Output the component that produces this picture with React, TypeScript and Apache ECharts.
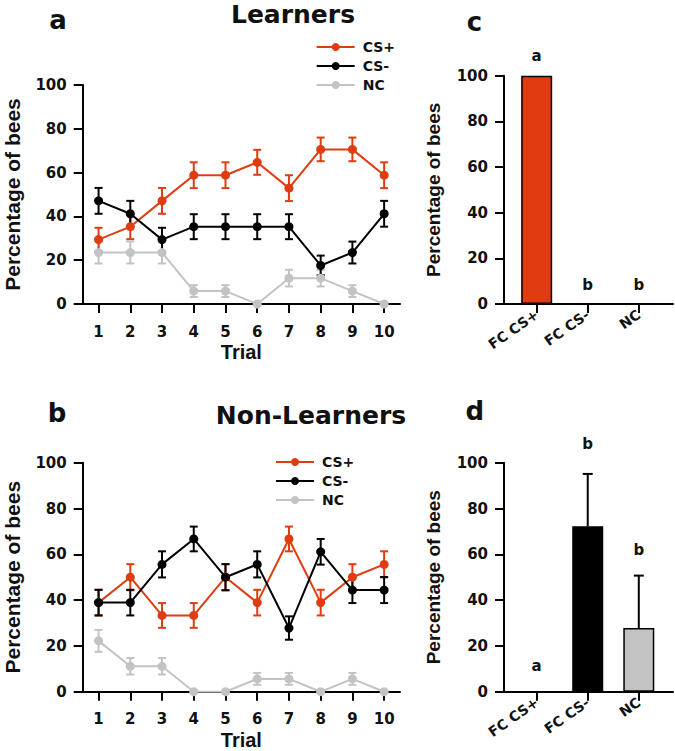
import React, { useEffect, useRef } from 'react';
import * as echarts from 'echarts';

// ---------- data ----------
const trials = [1, 2, 3, 4, 5, 6, 7, 8, 9, 10];
const trialLabels = ['1', '2', '3', '4', '5', '6', '7', '8', '9', '10'];
const groups = ['CS+', 'CS-', 'NC'];

// Learners (panel a)
const learnCSplus = [29.4, 35.3, 47.1, 58.8, 58.8, 64.7, 52.9, 70.6, 70.6, 58.8];
const learnCSplusErr = [5.4, 5.7, 5.9, 5.9, 5.9, 5.7, 5.9, 5.4, 5.4, 5.9];
const learnCSminus = [47.1, 41.2, 29.4, 35.3, 35.3, 35.3, 35.3, 17.6, 23.5, 41.2];
const learnCSminusErr = [5.9, 5.9, 5.4, 5.7, 5.7, 5.7, 5.7, 4.5, 5.0, 5.9];
const learnNC = [23.5, 23.5, 23.5, 5.9, 5.9, 0, 11.8, 11.8, 5.9, 0];
const learnNCErr = [5.0, 5.0, 5.0, 2.7, 2.7, 0, 3.8, 3.8, 2.7, 0];

// Non-learners (panel b)
const nonCSplus = [38.9, 50, 33.3, 33.3, 50, 38.9, 66.7, 38.9, 50, 55.6];
const nonCSplusErr = [5.6, 5.7, 5.4, 5.4, 5.7, 5.6, 5.4, 5.6, 5.7, 5.7];
const nonCSminus = [38.9, 38.9, 55.6, 66.7, 50, 55.6, 27.8, 61.1, 44.4, 44.4];
const nonCSminusErr = [5.6, 5.6, 5.7, 5.4, 5.7, 5.7, 5.1, 5.6, 5.7, 5.7];
const nonNC = [22.2, 11.1, 11.1, 0, 0, 5.6, 5.6, 0, 5.6, 0];
const nonNCErr = [4.8, 3.6, 3.6, 0, 0, 2.6, 2.6, 0, 2.6, 0];

// First choice bars (panels c, d)
const fcCategories = ['FC CS+', 'FC CS-', 'NC'];
const fcPositions = [1, 2, 3];
const learnFC = [100, 0, 0];
const learnFCErr = [0, 0, 0];
const learnLetters = ['a', 'b', 'b'];
const learnLetterY = [108.8, 8.3, 8.3];
const nonFC = [0, 72.2, 27.8];
const nonFCErr = [0, 22.9, 22.9];
const nonLetters = ['a', 'b', 'b'];
const nonLetterY = [11.4, 108, 61.9];

// ---------- style ----------
const RED = '#E03C12';
const BLACK = '#000000';
const GRAY = '#C3C3C3';
const TEXT = '#111111';
const DJV = '"DejaVu Sans", sans-serif';
const LIB = '"Liberation Sans", Arial, sans-serif';
const groupColors = [RED, BLACK, GRAY];

function errRender(capW: number, upOnly: boolean, color: string) {
  return (params: any, api: any) => {
    const x = api.value(0);
    const y = api.value(1);
    const e = api.value(2);
    if (!e) return { type: 'group', children: [] };
    const hi = api.coord([x, y + e]);
    const lo = api.coord([x, upOnly ? y : y - e]);
    const st = { stroke: color, lineWidth: 2 };
    const children: any[] = [
      { type: 'line', shape: { x1: hi[0], y1: hi[1], x2: lo[0], y2: lo[1] }, style: st },
      { type: 'line', shape: { x1: hi[0] - capW / 2, y1: hi[1], x2: hi[0] + capW / 2, y2: hi[1] }, style: st },
    ];
    if (!upOnly) {
      children.push({ type: 'line', shape: { x1: lo[0] - capW / 2, y1: lo[1], x2: lo[0] + capW / 2, y2: lo[1] }, style: st });
    }
    return { type: 'group', children };
  };
}

function yAxis(gridIndex: number, nameSize: number, nameGap: number) {
  return {
    type: 'value', gridIndex, min: 0, max: 100, interval: 20,
    name: 'Percentage of bees', nameLocation: 'middle', nameGap, nameMoveOverlap: false,
    nameTextStyle: { fontFamily: LIB, fontWeight: 'bold', fontSize: nameSize, color: TEXT },
    axisLine: { show: true, onZero: false, lineStyle: { color: BLACK, width: 2 } },
    axisTick: { show: true, length: 9, lineStyle: { color: BLACK, width: 2 } },
    axisLabel: { margin: 16, fontFamily: DJV, fontWeight: 'bold', fontSize: 15, color: TEXT },
    splitLine: { show: false },
  };
}

function trialAxis(gridIndex: number) {
  return {
    type: 'value', gridIndex, min: 0.5, max: 10.5,
    name: 'Trial', nameLocation: 'middle', nameGap: 38, nameMoveOverlap: false,
    nameTextStyle: { fontFamily: LIB, fontWeight: 'bold', fontSize: 20, color: TEXT },
    axisLine: { show: true, onZero: false, lineStyle: { color: BLACK, width: 2 } },
    axisTick: { show: true, length: 9, customValues: trials, lineStyle: { color: BLACK, width: 2 } },
    axisLabel: {
      margin: 20, fontFamily: DJV, fontWeight: 'bold', fontSize: 15, color: TEXT,
      customValues: trials,
      formatter: (v: number) => trialLabels[trials.indexOf(v)] ?? '',
    },
    splitLine: { show: false },
  };
}

function fcAxis(gridIndex: number) {
  return {
    type: 'value', gridIndex, min: 0.36, max: 3.67,
    axisLine: { show: true, onZero: false, lineStyle: { color: BLACK, width: 2 } },
    axisTick: { show: true, length: 9, customValues: fcPositions, lineStyle: { color: BLACK, width: 2 } },
    axisLabel: {
      margin: 9, rotate: 35, fontFamily: DJV, fontWeight: 'bold', fontSize: 14, color: TEXT,
      customValues: fcPositions,
      formatter: (v: number) => fcCategories[fcPositions.indexOf(v)] ?? '',
    },
    splitLine: { show: false },
  };
}

function lineSeries(axis: number, vals: number[][], errs: number[][]) {
  const order = [2, 0, 1]; // NC below, CS+ middle, CS- on top
  const out: any[] = [];
  order.forEach((g) => {
    const color = groupColors[g];
    out.push({
      type: 'custom', name: groups[g] + ' err', xAxisIndex: axis, yAxisIndex: axis, clip: false,
      renderItem: errRender(8, false, color),
      encode: { x: 0, y: 1 },
      data: trials.map((t, i) => [t, vals[g][i], errs[g][i]]),
      silent: true,
    });
    out.push({
      type: 'line', name: groups[g], xAxisIndex: axis, yAxisIndex: axis,
      data: trials.map((t, i) => [t, vals[g][i]]),
      symbol: 'circle', symbolSize: 9,
      lineStyle: { color, width: 2 }, itemStyle: { color },
    });
  });
  return out;
}

function barSeries(axis: number, vals: number[], errs: number[], letters: string[], letterY: number[]) {
  return [
    {
      type: 'bar', name: 'fc' + axis, xAxisIndex: axis, yAxisIndex: axis, barWidth: 31,
      data: fcPositions.map((p, i) => ({
        value: [p, vals[i]],
        itemStyle: { color: groupColors[i], borderColor: BLACK, borderWidth: vals[i] > 0 ? 1.5 : 0 },
      })),
    },
    {
      type: 'custom', name: 'fcerr' + axis, xAxisIndex: axis, yAxisIndex: axis, clip: false,
      renderItem: errRender(10, true, BLACK), encode: { x: 0, y: 1 },
      data: fcPositions.map((p, i) => [p, vals[i], errs[i]]), z: 1,
    },
    {
      type: 'scatter', name: 'letters' + axis, xAxisIndex: axis, yAxisIndex: axis, clip: false,
      symbolSize: 1, itemStyle: { color: '#ffffff', opacity: 0 },
      data: fcPositions.map((p, i) => [p, letterY[i], letters[i]]),
      label: {
        show: true, position: 'inside', fontFamily: DJV, fontWeight: 'bold', fontSize: 15,
        color: TEXT, textBorderWidth: 0, textBorderColor: 'transparent', opacity: 1,
        formatter: (p: any) => p.value[2],
      },
      emphasis: { disabled: true },
    },
  ];
}

function legend(left: number, top: number) {
  return {
    left, top, orient: 'vertical', data: groups, selectedMode: false,
    itemWidth: 38, itemHeight: 10, itemGap: 5,
    textStyle: { fontFamily: DJV, fontWeight: 'bold', fontSize: 14, color: TEXT, padding: [0, 0, 0, 3] },
  };
}

function titleText(text: string, x: number, y: number, size: number) {
  return {
    type: 'text', x, y,
    style: { text, fill: TEXT, font: `bold ${size}px "DejaVu Sans", sans-serif`, align: 'center', verticalAlign: 'middle' },
  };
}

export default function App() {
  const ref = useRef<HTMLDivElement>(null);
  useEffect(() => {
    if (!ref.current) return;
    const chart = echarts.init(ref.current, undefined, { renderer: 'svg' });
    const option: any = {
      animation: false,
      backgroundColor: '#ffffff',
      grid: [
        { left: 82.7, top: 85, width: 317.3, height: 219 },
        { left: 82.7, top: 462.7, width: 317.3, height: 229 },
        { left: 504, top: 75.7, width: 169, height: 228.3 },
        { left: 504, top: 462.7, width: 169, height: 229 },
      ],
      xAxis: [trialAxis(0), trialAxis(1), fcAxis(2), fcAxis(3)],
      yAxis: [yAxis(0, 21, 60), yAxis(1, 21, 60), yAxis(2, 19, 61), yAxis(3, 19, 61)],
      legend: [legend(310.7, 35), legend(270, 450)],
      graphic: [
        titleText('Learners', 293, 14, 25),
        titleText('Non-Learners', 311, 415, 25),
        titleText('a', 58, 20, 26),
        titleText('b', 57, 413, 26),
        titleText('c', 474.5, 22, 26),
        titleText('d', 474.7, 411, 26),
      ],
      series: [
        ...lineSeries(0, [learnCSplus, learnCSminus, learnNC], [learnCSplusErr, learnCSminusErr, learnNCErr]),
        ...lineSeries(1, [nonCSplus, nonCSminus, nonNC], [nonCSplusErr, nonCSminusErr, nonNCErr]),
        ...barSeries(2, learnFC, learnFCErr, learnLetters, learnLetterY),
        ...barSeries(3, nonFC, nonFCErr, nonLetters, nonLetterY),
      ],
    };
    chart.setOption(option);
    return () => chart.dispose();
  }, []);
  return <div ref={ref} style={{ position: 'absolute', left: 0, top: 0, width: 675, height: 751 }} />;
}
